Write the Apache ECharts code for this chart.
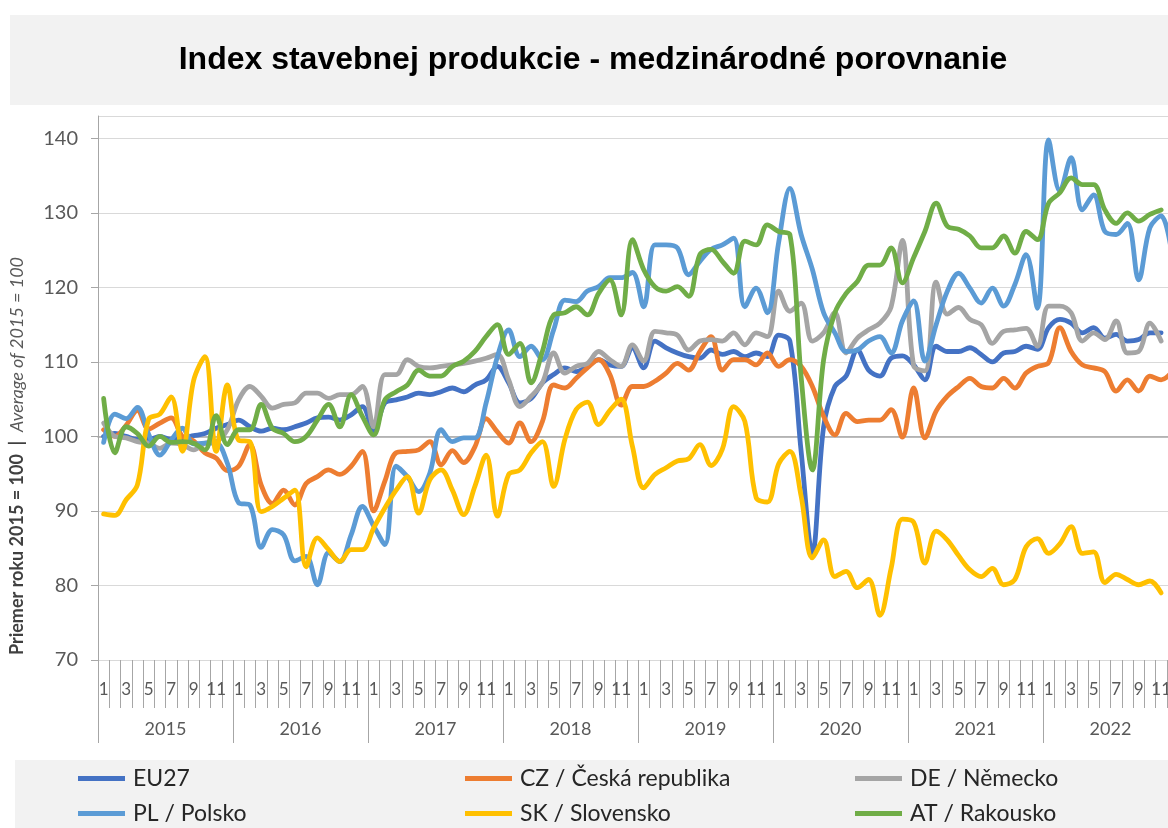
<!DOCTYPE html>
<html>
<head>
<meta charset="utf-8">
<script src="https://cdn.jsdelivr.net/npm/echarts@6/dist/echarts.min.js"></script>
<style>
  html, body { margin: 0; padding: 0; background: #fff; }
  #chart { width: 1168px; height: 828px; }
</style>
</head>
<body>
<div id="chart"></div>
<script>
// roky a mesiace na osi x
const years = ['2015', '2016', '2017', '2018', '2019', '2020', '2021', '2022'];
const monthNames = ['1', '2', '3', '4', '5', '6', '7', '8', '9', '10', '11', '12'];
const months = [];
years.forEach(() => monthNames.forEach(m => months.push(m)));

const yTicks = { min: 70, max: 143, step: 10 };

// index stavebnej produkcie, priemer 2015 = 100 (mesačne 1/2015 - 12/2022)
const eu27 = [
  100, 100.4, 100, 99.6, 99.6, 100, 99.6, 99.8, 100.1, 100.4, 101.1, 101.6,
  102.2, 101.3, 100.7, 101.1, 100.9, 101.3, 101.8, 102.5, 102.6, 102.2, 102.9, 104,
  100.7, 104.5, 104.9, 105.3, 105.8, 105.6, 106, 106.5, 106, 106.9, 107.6, 109.4,
  107.2, 104.5, 105.1, 107.2, 108.3, 109.2, 108.7, 109.4, 110.3, 109.6, 109.4, 111.9,
  109.2, 112.8, 111.9, 111.2, 110.7, 110.5, 111.6, 111, 111.4, 110.7, 111.2, 110.7,
  113.6, 112.8, 98, 84.3, 101.3, 106.7, 108.1, 111.6, 108.9, 108.1, 110.5, 110.8,
  109.6, 107.6, 112.1, 111.4, 111.4, 111.9, 111, 110, 111.2, 111.4, 112.1, 111.7,
  114.6, 115.7, 115.2, 113.9, 114.6, 113.2, 113.7, 112.8, 113, 113.9, 113.9, null
];
const cz = [
  100.9, 100, 101.5, 103.5, 101, 101.8, 102.5, 100, 99.4, 97.8, 97.1, 95.4,
  96, 98.9, 93.5, 91, 92.8, 90.8, 93.7, 94.6, 95.5, 94.9, 96, 98,
  90, 94, 97.8, 98, 98.2, 99.3, 96.2, 98.1, 96.5, 98.6, 102.4, 100.6,
  99.1, 101.8, 99.3, 102, 106.9, 106.5, 107.8, 109.2, 110.3, 108.3, 104.2, 106.7,
  106.7, 107.4, 108.5, 109.8, 108.9, 111.4, 113.4, 108.9, 110.3, 110.3, 109.6, 111.2,
  109.4, 110.3, 109.4, 106.7, 102.7, 100.2, 103.1, 102, 102.2, 102.2, 103.6, 99.9,
  106.5, 99.8, 103.4, 105.4, 106.7, 107.8, 106.7, 106.5, 107.8, 106.5, 108.5, 109.4,
  109.9, 114.6, 111.4, 109.6, 109.2, 108.7, 106.1, 107.6, 106.1, 108.1, 107.6, 108.7
];
const de = [
  101.8, 100, 99.8, 99.3, 99.1, 98.4, 99.1, 98.9, 98.2, 99.1, 99.3, 100.9,
  104.9, 106.7, 105.4, 103.8, 104.3, 104.5, 105.8, 105.8, 105.1, 105.6, 105.6, 106.7,
  101.3, 108.3, 108.3, 110.3, 109.4, 109.2, 109.4, 109.6, 109.8, 110.1, 110.5, 111,
  107.6, 104, 105.4, 107.2, 111.2, 108.5, 109.4, 109.8, 111.4, 110.3, 109.4, 112.3,
  110.1, 114.1, 113.9, 113.6, 111.6, 112.8, 113, 112.8, 113.9, 112.3, 113.9, 113.4,
  119.5, 116.8, 117.9, 112.8, 113.9, 116.6, 111.2, 113.2, 114.3, 115.2, 117.4, 126.3,
  109.5, 108.8, 120.7, 116.4, 117.3, 115.7, 115, 112.5, 114.1, 114.3, 114.5, 112.1,
  117.5, 117.5, 116.6, 112.8, 113.9, 113, 115.5, 111.2, 111.4, 115.2, 112.8, null
];
const pl = [
  99.2, 103, 102.4, 103.9, 100.3, 97.5, 99.5, 101.1, 99, 99.1, 99.1, 96.4,
  91.1, 90.8, 85.1, 87.5, 86.8, 83.3, 83.9, 80.1, 84.4, 83.2, 86.8, 90.6,
  88, 85.5, 96, 94.6, 92.6, 95.1, 100.9, 99.3, 99.8, 99.8, 104.5, 110.7,
  114.3, 110.7, 112.1, 110.3, 114.3, 118.3, 118.1, 119.5, 120.1, 121.3, 121.3, 122,
  117.4, 125.7, 125.7, 125.3, 121.7, 123.5, 125.1, 125.7, 126.6, 117.4, 119.9, 116.6,
  126, 133.3, 127.1, 122.4, 116.6, 113.9, 111.4, 111.6, 112.8, 113.4, 111.2, 115.5,
  118.2, 110.1, 115, 119.5, 121.9, 119.9, 117.9, 119.9, 117.5, 120.4, 124.4, 117.2,
  139.8, 132.9, 137.4, 130.4, 132.4, 127.5, 127.1, 128.6, 121, 128, 129.6, 124
];
const sk = [
  89.6, 89.4, 91.5, 93.5, 102.3, 103, 105.3, 98, 107.5, 110.7, 98, 106.9,
  99.5, 99.3, 89.9, 90.6, 91.7, 92.8, 82.5, 86.4, 84.8, 83.2, 84.8, 84.8,
  87.7, 90.4, 92.8, 94.6, 89.7, 94.2, 95.5, 92.8, 89.5, 93.3, 97.5, 89.3,
  94.9, 95.5, 97.8, 99.3, 93.3, 99.6, 103.6, 104.6, 101.6, 103.5, 105, 98.7,
  93.1, 94.9, 95.8, 96.7, 97, 98.9, 96.1, 98.3, 104, 102, 91.8, 91.2,
  96.3, 98, 92, 83.7, 86.1, 81.2, 81.9, 79.7, 80.8, 76, 82.3, 88.9,
  88.5, 83, 87.3, 86.1, 84, 82.1, 81.2, 82.3, 80.1, 80.8, 85.2, 86.3,
  84.3, 85.6, 87.9, 84.3, 84.5, 80.4, 81.5, 80.8, 80.1, 80.6, 79, null
];
const at = [
  105.1, 97.8, 101.3, 100.4, 98.7, 100, 99.2, 99.3, 99.1, 98.2, 102.8, 98.9,
  100.9, 100.9, 104.3, 101.1, 100.4, 99.3, 100, 102.2, 104.3, 101.3, 105.6, 102.7,
  100.2, 104.9, 106, 106.9, 108.9, 108.1, 108.1, 109.4, 110.1, 111.4, 113.4, 115,
  111, 112.5, 107.2, 111.4, 116.3, 116.6, 117.4, 116.3, 119.2, 121, 116.3, 126.4,
  122.4, 120.1, 119.5, 120.1, 118.8, 124.4, 125.1, 123.5, 121.9, 126.2, 125.7, 128.4,
  127.5, 127.1, 108, 95.5, 110.3, 116.6, 119.2, 120.8, 123, 123, 125.3, 120.6,
  124, 127.5, 131.3, 128.2, 127.8, 126.9, 125.3, 125.3, 126.9, 124.6, 127.5, 126.4,
  131.3, 132.7, 134.7, 133.8, 133.8, 130.4, 128.6, 130, 128.9, 129.8, 130.4, null
];

const seriesList = [
  { name: 'EU27', data: eu27, color: '#4472c4' },
  { name: 'CZ / Česká republika', data: cz, color: '#ed7d31' },
  { name: 'DE / Německo', data: de, color: '#a5a5a5' },
  { name: 'PL / Polsko', data: pl, color: '#5b9bd5' },
  { name: 'SK / Slovensko', data: sk, color: '#ffc000' },
  { name: 'AT / Rakousko', data: at, color: '#70ad47' }
];

// rozmery plochy grafu (posledný mesiac presahuje okraj obrázka)
const gridTop = 116, gridLeft = 98, plotWidth = 1080, plotHeight = 544;
// os x pretína os y v hodnote 100
const crossOffset = -(100 - yTicks.min) * plotHeight / (yTicks.max - yTicks.min);

const font = 'Lato, "Open Sans", sans-serif';
const axisGray = '#a6a6a6';

const chart = echarts.init(document.getElementById('chart'));

// legenda: 3 stĺpce x 2 riadky, každá položka zvlášť
const legendLeft = [78, 465, 855];
const legendTop = [767, 802];

chart.setOption({
  animation: false,
  backgroundColor: '#fff',
  graphic: [
    { type: 'rect', z: -10, shape: { x: 10, y: 15, width: 1158, height: 90 }, style: { fill: '#f2f2f2' } },
    { type: 'rect', z: -10, shape: { x: 15, y: 760, width: 1153, height: 68 }, style: { fill: '#f2f2f2' } },
    {
      type: 'text', x: 593, y: 60, z: 10,
      style: {
        text: 'Index stavebnej produkcie - medzinárodné porovnanie',
        font: 'bold 32px "Liberation Sans", Arial, sans-serif',
        fill: '#000', align: 'center', verticalAlign: 'middle'
      }
    },
    {
      type: 'text', x: 17, y: 456, rotation: Math.PI / 2, z: 10,
      style: {
        text: '{b|Priemer roku 2015 = 100  |  }{i|Average of 2015 = 100}',
        align: 'center', verticalAlign: 'middle',
        rich: {
          b: { fontFamily: font, fontSize: 18, fontWeight: 'bold', fill: '#404040' },
          i: { fontFamily: font, fontSize: 18, fontStyle: 'italic', fill: '#595959' }
        }
      }
    }
  ],
  legend: seriesList.map((s, i) => ({
    left: legendLeft[i % 3],
    top: legendTop[Math.floor(i / 3)],
    padding: 0,
    itemWidth: 47,
    itemHeight: 5,
    icon: 'rect',
    textStyle: { fontFamily: font, fontSize: 23, color: '#262626', padding: [0, 0, 0, 3] },
    data: [s.name]
  })),
  grid: {
    left: gridLeft, top: gridTop, width: plotWidth, height: plotHeight,
    containLabel: false, outerBoundsMode: 'none'
  },
  xAxis: [
    {
      // mesiace
      type: 'category', position: 'bottom', data: months, boundaryGap: true,
      axisLine: { show: true, onZero: false, lineStyle: { color: '#d9d9d9' } },
      axisTick: { show: true, inside: false, alignWithLabel: false, interval: 0, length: 48, lineStyle: { color: axisGray, width: 1 } },
      axisLabel: { interval: 1, margin: 21, fontFamily: font, fontSize: 17, color: '#595959' },
      splitLine: { show: false }
    },
    {
      // roky
      type: 'category', position: 'bottom', offset: 0, data: years, boundaryGap: true,
      axisLine: { show: true, onZero: false, lineStyle: { color: '#d9d9d9' } },
      axisTick: { show: true, inside: false, alignWithLabel: false, interval: 0, length: 83, lineStyle: { color: axisGray, width: 1 } },
      axisLabel: { interval: 0, margin: 60, fontFamily: font, fontSize: 18, color: '#595959' },
      splitLine: { show: false }
    },
    {
      // os na úrovni 100
      type: 'category', position: 'bottom', offset: crossOffset, data: months, boundaryGap: true,
      axisLine: { onZero: false, lineStyle: { color: axisGray, width: 1.5 } },
      axisTick: { interval: 0, length: 6, lineStyle: { color: axisGray } },
      axisLabel: { show: false },
      splitLine: { show: false }
    }
  ],
  yAxis: {
    type: 'value',
    min: yTicks.min, max: yTicks.max, interval: yTicks.step,
    axisLine: { show: true, lineStyle: { color: axisGray } },
    axisTick: { show: true, length: 7, lineStyle: { color: axisGray } },
    axisLabel: { showMaxLabel: false, margin: 20, fontFamily: font, fontSize: 20, color: '#595959' },
    splitLine: { lineStyle: { color: '#d9d9d9', width: 1.2 } }
  },
  series: seriesList.map(s => ({
    name: s.name,
    type: 'line',
    xAxisIndex: 0,
    data: s.data,
    smooth: 0.35,
    showSymbol: false,
    color: s.color,
    lineStyle: { width: 4.8, color: s.color, cap: 'round', join: 'round' }
  }))
});
</script>
</body>
</html>
